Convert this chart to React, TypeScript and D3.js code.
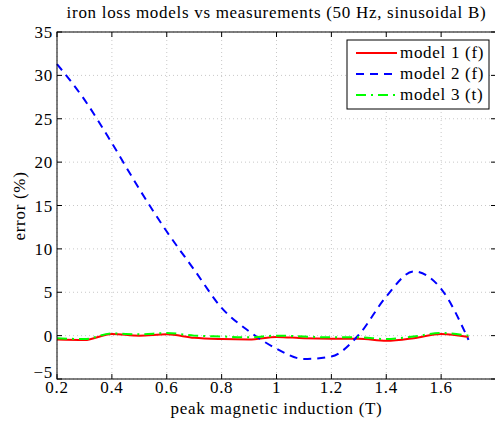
import React from "react";
import * as d3 from "d3";

const B = [0.2, 0.3, 0.4, 0.5, 0.6, 0.7, 0.8, 0.9, 1.0, 1.1, 1.2, 1.3, 1.4, 1.5, 1.6, 1.7];
const model1 = [-0.45, -0.5, 0.2, 0.0, 0.15, -0.25, -0.4, -0.45, -0.15, -0.3, -0.35, -0.35, -0.6, -0.3, 0.2, -0.15];
const model2 = [31.3, 27.2, 22.2, 16.9, 12.0, 7.6, 3.2, 0.5, -1.5, -2.7, -2.4, 0.1, 4.5, 7.4, 5.4, -0.5];
const model3 = [-0.3, -0.4, 0.25, 0.15, 0.3, 0.0, -0.1, -0.2, 0.0, -0.1, -0.2, -0.2, -0.4, -0.1, 0.3, 0.0];
const xTicks = [0.2, 0.4, 0.6, 0.8, 1, 1.2, 1.4, 1.6, 1.8];
const yTicks = [-5, 0, 5, 10, 15, 20, 25, 30, 35];
const legendLabels = ["model 1 (f)", "model 2 (f)", "model 3 (t)"];

const W = 495, H = 425;
const L = 57, R = 496, T = 32, Bm = 379;
const FONT = "'Liberation Serif', 'Times New Roman', serif";
const FS = 17;
const LS = 0.7;

export default function App() {
  const x = d3.scaleLinear().domain([0.2, 1.8]).range([L, R]);
  const y = d3.scaleLinear().domain([-5, 35]).range([Bm, T]);
  const line = (vals: number[]) =>
    d3.line<number>().x((_, i) => x(B[i])).y((d) => y(d)).curve(d3.curveMonotoneX)(vals) || "";

  const series = [
    { vals: model1, color: "#ff0000", dash: "none" },
    { vals: model2, color: "#0000ff", dash: "8,6" },
    { vals: model3, color: "#00ff00", dash: "10,5,2,5" },
  ];

  return (
    <svg width={W} height={H} style={{ position: "absolute", left: 0, top: 0, background: "#fff" }} fontFamily={FONT} letterSpacing={LS}>
      <rect x={0} y={0} width={W} height={H} fill="#fff" />
      {/* grid */}
      {xTicks.map((t) => (
        <line key={"gx" + t} x1={x(t)} x2={x(t)} y1={T} y2={Bm} stroke="#c8c8c8" strokeDasharray="1,3" />
      ))}
      {yTicks.map((t) => (
        <line key={"gy" + t} x1={L} x2={R} y1={y(t)} y2={y(t)} stroke="#c8c8c8" strokeDasharray="1,3" />
      ))}
      {/* ticks */}
      {xTicks.map((t) => (
        <g key={"tx" + t}>
          <line x1={x(t)} x2={x(t)} y1={Bm} y2={Bm - 5} stroke="#000" />
          <line x1={x(t)} x2={x(t)} y1={T} y2={T + 5} stroke="#000" />
        </g>
      ))}
      {yTicks.map((t) => (
        <g key={"ty" + t}>
          <line x1={L} x2={L + 5} y1={y(t)} y2={y(t)} stroke="#000" />
          <line x1={R} x2={R - 5} y1={y(t)} y2={y(t)} stroke="#000" />
        </g>
      ))}
      {/* data */}
      <g>
        {series.map((s, i) => (
          <path key={i} d={line(s.vals)} fill="none" stroke={s.color} strokeWidth={2} strokeDasharray={s.dash} />
        ))}
      </g>
      {/* axes box */}
      <rect x={L} y={T} width={R - L} height={Bm - T} fill="none" stroke="#000" strokeWidth={1} />
      {/* tick labels */}
      {xTicks.filter((t) => t < 1.7).map((t) => (
        <text key={"lx" + t} x={x(t)} y={Bm + 14} textAnchor="middle" fontSize={FS}>
          {String(t)}
        </text>
      ))}
      {yTicks.map((t) => (
        <text key={"ly" + t} x={L - 4} y={t === -5 ? y(t) - 1 : y(t) + 6} textAnchor="end" fontSize={FS}>
          {t < 0 ? "\u2212" + Math.abs(t) : String(t)}
        </text>
      ))}
      {/* title & labels */}
      <text x={(L + R) / 2} y={18} textAnchor="middle" fontSize={FS}>
        iron loss models vs measurements (50 Hz, sinusoidal B)
      </text>
      <text x={(L + R) / 2} y={414} textAnchor="middle" fontSize={FS}>
        peak magnetic induction (T)
      </text>
      <text transform={`translate(25,${206}) rotate(-90)`} textAnchor="middle" fontSize={FS}>
        error (%)
      </text>
      {/* legend */}
      <g>
        <rect x={347} y={40} width={142} height={69} fill="#fff" stroke="#000" />
        {series.map((s, i) => (
          <g key={"lg" + i}>
            <line x1={356} x2={397} y1={53 + i * 21} y2={53 + i * 21} stroke={s.color} strokeWidth={2} strokeDasharray={s.dash} />
            <text x={400} y={58 + i * 21} fontSize={FS}>
              {legendLabels[i]}
            </text>
          </g>
        ))}
      </g>
    </svg>
  );
}
